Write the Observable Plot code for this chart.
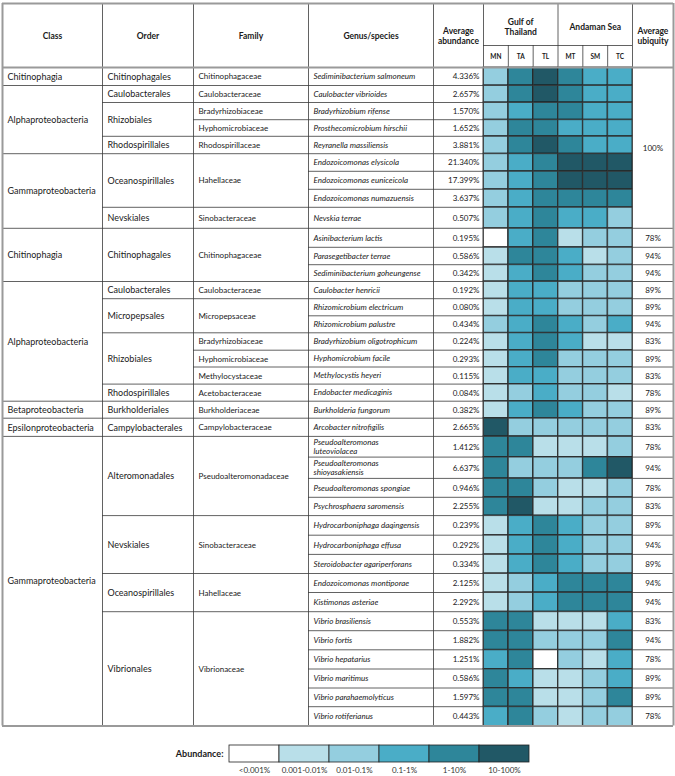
<!DOCTYPE html>
<html><head><meta charset="utf-8">
<script src="https://cdn.jsdelivr.net/npm/d3@7"></script>
<script src="https://cdn.jsdelivr.net/npm/@observablehq/plot@0.6"></script>
<style>
body{margin:0;background:#fff;font-family:Lato,sans-serif;}
#chart svg{display:block}
</style></head><body><div id="chart"></div><script>
// ---------- data ----------
const classes = [
  "Chitinophagia",
  "Alphaproteobacteria","Alphaproteobacteria","Alphaproteobacteria","Alphaproteobacteria",
  "Gammaproteobacteria","Gammaproteobacteria","Gammaproteobacteria","Gammaproteobacteria",
  "Chitinophagia","Chitinophagia","Chitinophagia",
  "Alphaproteobacteria","Alphaproteobacteria","Alphaproteobacteria","Alphaproteobacteria","Alphaproteobacteria","Alphaproteobacteria","Alphaproteobacteria",
  "Betaproteobacteria",
  "Epsilonproteobacteria",
  "Gammaproteobacteria","Gammaproteobacteria","Gammaproteobacteria","Gammaproteobacteria","Gammaproteobacteria",
  "Gammaproteobacteria","Gammaproteobacteria","Gammaproteobacteria","Gammaproteobacteria","Gammaproteobacteria",
  "Gammaproteobacteria","Gammaproteobacteria","Gammaproteobacteria","Gammaproteobacteria","Gammaproteobacteria"
];
const orders = [
  "Chitinophagales","Caulobacterales","Rhizobiales","Rhizobiales","Rhodospirillales",
  "Oceanospirillales","Oceanospirillales","Oceanospirillales","Nevskiales",
  "Chitinophagales","Chitinophagales","Chitinophagales",
  "Caulobacterales","Micropepsales","Micropepsales","Rhizobiales","Rhizobiales","Rhizobiales","Rhodospirillales",
  "Burkholderiales","Campylobacterales",
  "Alteromonadales","Alteromonadales","Alteromonadales","Alteromonadales",
  "Nevskiales","Nevskiales","Nevskiales","Oceanospirillales","Oceanospirillales",
  "Vibrionales","Vibrionales","Vibrionales","Vibrionales","Vibrionales","Vibrionales"
];
const families = [
  "Chitinophagaceae","Caulobacteraceae","Bradyrhizobiaceae","Hyphomicrobiaceae","Rhodospirillaceae",
  "Hahellaceae","Hahellaceae","Hahellaceae","Sinobacteraceae",
  "Chitinophagaceae","Chitinophagaceae","Chitinophagaceae",
  "Caulobacteraceae","Micropepsaceae","Micropepsaceae","Bradyrhizobiaceae","Hyphomicrobiaceae","Methylocystaceae","Acetobacteraceae",
  "Burkholderiaceae","Campylobacteraceae",
  "Pseudoalteromonadaceae","Pseudoalteromonadaceae","Pseudoalteromonadaceae","Pseudoalteromonadaceae",
  "Sinobacteraceae","Sinobacteraceae","Sinobacteraceae","Hahellaceae","Hahellaceae",
  "Vibrionaceae","Vibrionaceae","Vibrionaceae","Vibrionaceae","Vibrionaceae","Vibrionaceae"
];
const species = [
  "Sediminibacterium salmoneum","Caulobacter vibrioides","Bradyrhizobium rifense","Prosthecomicrobium hirschii",
  "Reyranella massiliensis","Endozoicomonas elysicola","Endozoicomonas euniceicola","Endozoicomonas numazuensis",
  "Nevskia terrae","Asinibacterium lactis","Parasegetibacter terrae","Sediminibacterium goheungense",
  "Caulobacter henricii","Rhizomicrobium electricum","Rhizomicrobium palustre","Bradyrhizobium oligotrophicum",
  "Hyphomicrobium facile","Methylocystis heyeri","Endobacter medicaginis","Burkholderia fungorum",
  "Arcobacter nitrofigilis","Pseudoalteromonas\nluteoviolacea","Pseudoalteromonas\nshioyasakiensis",
  "Pseudoalteromonas spongiae","Psychrosphaera saromensis","Hydrocarboniphaga daqingensis",
  "Hydrocarboniphaga effusa","Steroidobacter agariperforans","Endozoicomonas montiporae","Kistimonas asteriae",
  "Vibrio brasiliensis","Vibrio fortis","Vibrio hepatarius","Vibrio maritimus","Vibrio parahaemolyticus","Vibrio rotiferianus"
];
const abundance = [
  4.336, 2.657, 1.570, 1.652, 3.881, 21.340, 17.399, 3.637, 0.507,
  0.195, 0.586, 0.342, 0.192, 0.080, 0.434, 0.224, 0.293, 0.115, 0.084, 0.382,
  2.665, 1.412, 6.637, 0.946, 2.255, 0.239, 0.292, 0.334, 2.125, 2.292,
  0.553, 1.882, 1.251, 0.586, 1.597, 0.443
];
const ubiquity = [
  100,100,100,100,100,100,100,100,100,
  78,94,94,89,89,94,83,89,83,78,89,83,78,94,78,83,89,94,89,94,94,83,94,78,89,89,78
];
const sites = ["MN","TA","TL","MT","SM","TC"];
const siteGroups = ["Gulf of\nThailand","Andaman Sea"];
const headers = ["Class","Order","Family","Genus/species","Average\nabundance"];
const ubiquityHeader = "Average\nubiquity";
const legendTitle = "Abundance:";
const levelLabels = ["<0.001%","0.001-0.01%","0.01-0.1%","0.1-1%","1-10%","10-100%"];
// abundance class (index into levelLabels) per species, sites MN TA TL MT SM TC
const levels = [
  [2,4,5,4,3,3],[2,4,5,4,3,3],[2,3,4,4,3,3],[2,4,4,3,3,3],[2,4,5,4,3,3],
  [2,3,4,5,5,5],[2,3,4,5,5,5],[2,3,4,4,4,4],[2,3,4,3,3,2],
  [0,3,4,1,2,2],[1,4,4,3,1,2],[1,3,4,3,2,2],
  [1,3,3,2,2,2],[1,3,3,2,2,2],[2,3,4,3,2,3],[1,3,4,3,1,1],[1,3,4,2,2,2],[1,3,3,2,2,2],[1,2,3,2,2,1],
  [1,3,4,3,2,2],[5,2,2,2,2,2],
  [4,4,1,1,1,2],[4,2,2,2,4,5],[4,4,2,1,1,2],[4,5,1,1,2,2],
  [1,3,4,3,2,2],[1,3,4,3,2,2],[1,3,4,3,2,2],[1,2,3,4,4,4],[1,2,3,4,4,4],
  [4,4,1,1,1,3],[4,4,2,2,2,4],[3,4,0,2,1,3],[4,3,1,1,2,3],[4,4,1,1,2,4],[3,4,2,1,2,2]
];

// ---------- layout / style ----------
const levelColors = ["#ffffff","#b9dfe9","#94cedf","#4aadc7","#2e869a","#215866"];
const FONT = "Lato, sans-serif";
const colW = [100, 91, 115, 125, 50, ...sites.map(() => 149 / 6), 41];
// table row heights (layout units)
const rowH = [18,17,17.2,16.6,17.4,17.6,18,18,21, 19,17.4,16.8,17.2,17.1,17,17.4,16.8,17.1,17.1,17,18.2,
              20.7,21.3,18.9,18.3,19.6,19.2,19.1,19,19.2,19,19.1,19.2,19,18.7,19.2];
const HDR = 64, SUB = -22;

const edges = [0]; colW.forEach(w => edges.push(edges[edges.length - 1] + w));
const W = edges[edges.length - 1];
const colMid = i => (edges[i] + edges[i + 1]) / 2;
const rowTop = [0]; rowH.forEach(h => rowTop.push(rowTop[rowTop.length - 1] + h));
const total = rowTop[rowTop.length - 1];
const S0 = 5, UB = 5 + sites.length; // first site column, ubiquity column

function runs(keys) {
  const out = []; let s = 0;
  for (let i = 1; i <= keys.length; i++) {
    if (i === keys.length || keys[i] !== keys[s]) { out.push({start: s, end: i}); s = i; }
  }
  return out;
}
const classRuns = runs(classes);
const orderRuns = runs(classes.map((c, i) => c + "|" + orders[i]));
const familyRuns = runs(classes.map((c, i) => c + "|" + orders[i] + "|" + families[i]));
const rowRuns = runs(species.map((_, i) => i));
const ubiqRuns = runs(ubiquity.map((u, i) => u === 100 ? "all" : "r" + i));
const colRuns = edges.slice(0, -1).map((_, c) =>
  c === 0 ? classRuns : c === 1 ? orderRuns : c === 2 ? familyRuns : c === UB ? ubiqRuns : rowRuns);

const hInner = [];
colRuns.forEach((rs, c) => rs.slice(0, -1).forEach(r =>
  hInner.push({y: rowTop[r.end], x1: edges[c], x2: edges[c + 1]})));
hInner.push({y: SUB, x1: edges[S0], x2: edges[UB]});
const vInner = [];
for (let c = 1; c < edges.length - 1; c++) {
  const isSub = c > S0 && c < UB && c !== S0 + 3;
  vInner.push({x: edges[c], y1: isSub ? SUB : -HDR, y2: total});
}
const hOuter = [{y: -HDR}, {y: 0}, {y: total}];
const vOuter = [{x: 0}, {x: W}];

const cells = [];
levels.forEach((row, i) => row.forEach((lv, j) => cells.push({i, j, lv})));

const mid = r => (rowTop[r.start] + rowTop[r.end]) / 2;
const headText = headers.map((t, c) => ({x: colMid(c), y: -HDR / 2, t}));
headText.push({x: colMid(UB), y: -HDR / 2, t: ubiquityHeader});
const groupText = siteGroups.map((t, g) => ({x: (edges[S0 + 3 * g] + edges[S0 + 3 * g + 3]) / 2, y: (-HDR + SUB) / 2 + 2, t}));
const siteText = sites.map((t, j) => ({x: colMid(S0 + j), y: SUB / 2, t}));
const classText = classRuns.map(r => ({x: edges[0] + 5, y: mid(r), t: classes[r.start]}));
const orderText = orderRuns.map(r => ({x: edges[1] + 5, y: mid(r), t: orders[r.start]}));
const familyText = familyRuns.map(r => ({x: edges[2] + 5, y: mid(r), t: families[r.start]}));
const speciesText = rowRuns.map(r => ({x: edges[3] + 5, y: mid(r), t: species[r.start]}));
const abText = rowRuns.map(r => ({x: edges[5] - 4, y: mid(r), t: abundance[r.start].toFixed(3) + "%"}));
const ubText = ubiqRuns.map(r => ({x: colMid(UB), y: mid(r), t: ubiquity[r.start] + "%"}));

const T = (data, o) => Plot.text(data, {x: "x", y: "y", text: "t", fill: "#1a1a1a", fontFamily: FONT, lineHeight: 1.15, ...o});

const main = Plot.plot({
  width: 675, height: 732, margin: 0,
  x: {domain: [0, W], range: [2, 673], axis: null},
  y: {domain: [-HDR, total], range: [3, 3 + HDR + total], axis: null},
  color: {type: "ordinal", domain: levelLabels, range: levelColors},
  style: {fontFamily: FONT, background: "white"},
  marks: [
    Plot.rect(cells, {
      x1: d => edges[S0 + d.j], x2: d => edges[S0 + d.j + 1],
      y1: d => rowTop[d.i], y2: d => rowTop[d.i + 1],
      fill: d => levelLabels[d.lv], stroke: "#1b1b1b", strokeWidth: 0.8
    }),
    Plot.ruleY(hInner, {y: "y", x1: "x1", x2: "x2", stroke: "#3a3a3a", strokeWidth: 0.8}),
    Plot.ruleX(vInner, {x: "x", y1: "y1", y2: "y2", stroke: "#3a3a3a", strokeWidth: 0.8}),
    Plot.ruleY(hOuter, {y: "y", x1: 0, x2: W, stroke: "#9a9a9a", strokeWidth: 2}),
    Plot.ruleX(vOuter, {x: "x", y1: -HDR, y2: total, stroke: "#9a9a9a", strokeWidth: 2}),
    T(headText, {fontWeight: "bold", fontSize: 8.5}),
    T(groupText, {fontWeight: "bold", fontSize: 8.5}),
    T(siteText, {fontWeight: "bold", fontSize: 6.5}),
    T(classText, {textAnchor: "start", fontSize: 9}),
    T(orderText, {textAnchor: "start", fontSize: 9}),
    T(familyText, {textAnchor: "start", fontSize: 8}),
    T(speciesText, {textAnchor: "start", fontSize: 8, fontStyle: "italic", lineHeight: 1.1}),
    T(abText, {textAnchor: "end", fontSize: 8}),
    T(ubText, {fontSize: 8})
  ]
});

const legend = Plot.plot({
  width: 675, height: 44,
  marginLeft: 228, marginRight: 145, marginTop: 13, marginBottom: 14,
  x: {type: "band", domain: levelLabels, padding: 0, axis: null},
  y: {type: "band", domain: [legendTitle], padding: 0, axis: null},
  color: {type: "ordinal", domain: levelLabels, range: levelColors},
  style: {fontFamily: FONT, background: "white"},
  marks: [
    Plot.cell(levelLabels, {x: d => d, y: () => legendTitle, fill: d => d, stroke: "#222", strokeWidth: 0.8, inset: 0}),
    Plot.axisY({tickSize: 0, tickPadding: 5, fontWeight: "bold", fontSize: 9, label: null, fill: "#1a1a1a"}),
    Plot.axisX({tickSize: 0, tickPadding: 5, fontSize: 8, label: null, fill: "#333"})
  ]
});

document.getElementById("chart").append(main, legend);
</script></body></html>
